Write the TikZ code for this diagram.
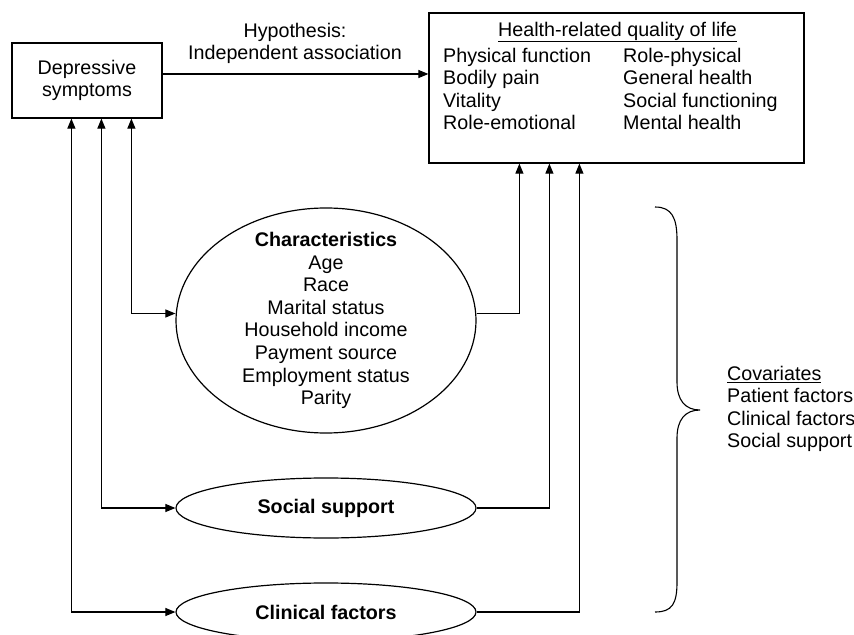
\documentclass[tikz,border=0pt]{standalone}
\usepackage{fontspec}
\setmainfont{Liberation Sans}
\usetikzlibrary{arrows.meta,shapes.geometric,calc}
\begin{document}
\begin{tikzpicture}[x=1bp,y=-1bp,
  every node/.style={font=\fontsize{19.7bp}{22.6bp}\selectfont, inner sep=0pt},
  box/.style={draw, line width=1.2bp, rectangle},
  oval/.style={draw, line width=1.2bp, ellipse},
  conn/.style={line width=1.1bp},
  tip/.style={-{Triangle[length=10bp,width=8bp]}},
  both/.style={{Triangle[length=10bp,width=8bp]}-{Triangle[length=10bp,width=8bp]}},
]
\useasboundingbox (0,0) rectangle (854,635);

% boxes
\node[box, align=center, minimum width=150bp, minimum height=75bp] (dep) at (87,80.5) {Depressive\\symptoms};
\node[box, minimum width=375bp, minimum height=150bp] (hrql) at (616.5,88) {};
\node (hrqltitle) at (617.5,32) {\underline{Health-related quality of life}};
\node[align=left, anchor=west] (hrqlL) at (443,89) {Physical function\\Bodily pain\\Vitality\\Role-emotional};
\node[align=left, anchor=west] (hrqlR) at (623,89) {Role-physical\\General health\\Social functioning\\Mental health};

% hypothesis
\node[align=center] (hyp) at (295,43.5) {Hypothesis:\\Independent association};
\coordinate (hs) at ($(dep.east)+(0,-6.5)$);
\draw[conn,tip] (hs) -- (hs -| hrql.west);

% ellipses
\node[oval, minimum width=300bp, minimum height=225bp] (char) at (326,320.5) {};
\node[align=center] (chartext) at (326,320.5) {\textbf{Characteristics}\\Age\\Race\\Marital status\\Household income\\Payment source\\Employment status\\Parity};
\node[oval, minimum width=300bp, minimum height=60bp] (soc) at (326,508) {\textbf{Social support}};
\node[oval, minimum width=300bp, minimum height=58bp] (clin) at (326,612) {\textbf{Clinical factors}};

% left connectors
\coordinate (d1) at ($(dep.south west)+(60,0)$);
\coordinate (d2) at ($(dep.south west)+(90,0)$);
\coordinate (d3) at ($(dep.south west)+(120,0)$);
\coordinate (cw) at ($(char.west)+(0,-7)$);
\draw[conn,both] (d3) |- (cw);
\draw[conn,both] (d2) |- (soc.west);
\draw[conn,both] (d1) |- (clin.west);

% right connectors
\coordinate (h1) at ($(hrql.south west)+(91,0)$);
\coordinate (h2) at ($(hrql.south west)+(121,0)$);
\coordinate (h3) at ($(hrql.south west)+(151,0)$);
\coordinate (ce) at ($(char.east)+(0,-7)$);
\draw[conn,tip] (ce) -| (h1);
\draw[conn,tip] (soc.east) -| (h2);
\draw[conn,tip] (clin.east) -| (h3);

% brace
\draw[conn] (655,207) .. controls (672,207) and (677,218) .. (677,240) -- (677,382)
  .. controls (677,400) and (685,410) .. (700,410)
  .. controls (685,410) and (677,420) .. (677,438) -- (677,582)
  .. controls (677,604) and (672,612) .. (655,612);

% covariates
\node[align=left, anchor=west] (cov) at (727,409) {\underline{Covariates}\\Patient factors\\Clinical factors\\Social support};
\end{tikzpicture}
\end{document}
